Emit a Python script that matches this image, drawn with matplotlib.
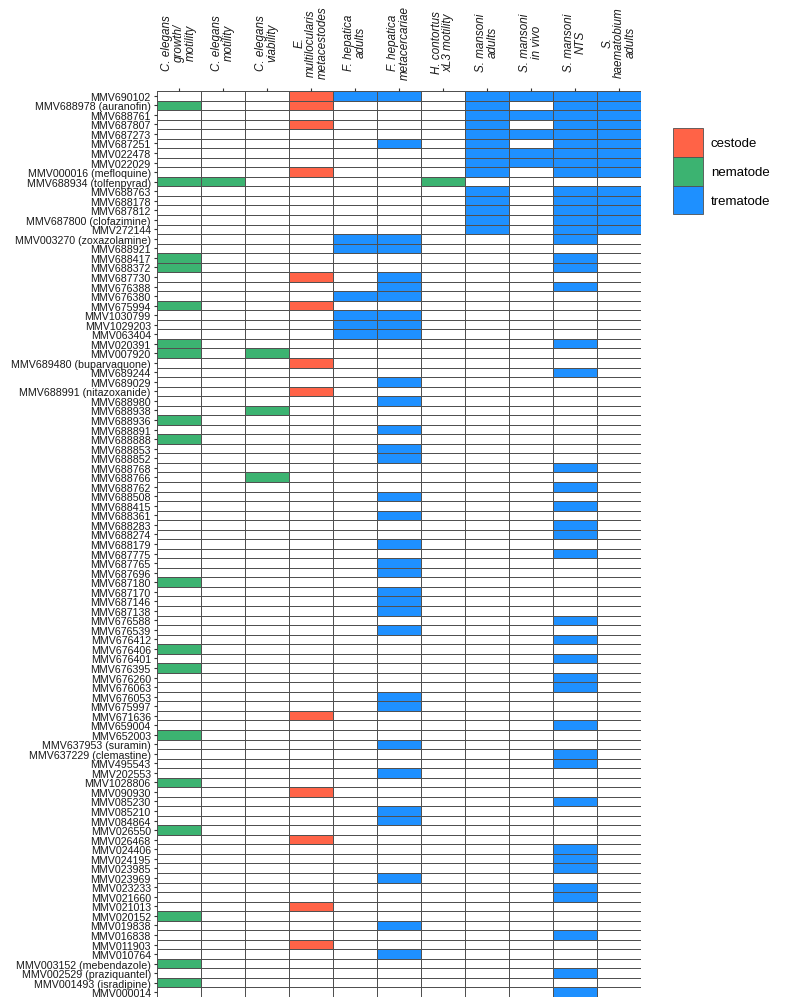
import numpy as np
import matplotlib
matplotlib.use("Agg")
import matplotlib.pyplot as plt
from matplotlib.colors import ListedColormap
from matplotlib.patches import Patch

plt.rcParams["font.family"] = ["Liberation Sans", "DejaVu Sans"]

# assays (columns) and the parasite class each one belongs to
assays = [
    "C. elegans\ngrowth/\nmotility", "C. elegans\nmotility", "C. elegans\nviability",
    "E.\nmultilocularis\nmetacestodes", "F. hepatica\nadults", "F. hepatica\nmetacercariae",
    "H. contortus\nxL3 motility", "S. mansoni\nadults", "S. mansoni\nin vivo",
    "S. mansoni\nNTS", "S.\nhaematobium\nadults",
]
assay_class = ["nematode", "nematode", "nematode", "cestode", "trematode", "trematode",
               "nematode", "trematode", "trematode", "trematode", "trematode"]

compounds = [
    "MMV690102", "MMV688978 (auranofin)", "MMV688761", "MMV687807", "MMV687273",
    "MMV687251", "MMV022478", "MMV022029", "MMV000016 (mefloquine)", "MMV688934 (tolfenpyrad)",
    "MMV688763", "MMV688178", "MMV687812", "MMV687800 (clofazimine)", "MMV272144",
    "MMV003270 (zoxazolamine)", "MMV688921", "MMV688417", "MMV688372", "MMV687730",
    "MMV676388", "MMV676380", "MMV675994", "MMV1030799", "MMV1029203",
    "MMV063404", "MMV020391", "MMV007920", "MMV689480 (buparvaquone)", "MMV689244",
    "MMV689029", "MMV688991 (nitazoxanide)", "MMV688980", "MMV688938", "MMV688936",
    "MMV688891", "MMV688888", "MMV688853", "MMV688852", "MMV688768",
    "MMV688766", "MMV688762", "MMV688508", "MMV688415", "MMV688361",
    "MMV688283", "MMV688274", "MMV688179", "MMV687775", "MMV687765",
    "MMV687696", "MMV687180", "MMV687170", "MMV687146", "MMV687138",
    "MMV676588", "MMV676539", "MMV676412", "MMV676406", "MMV676401",
    "MMV676395", "MMV676260", "MMV676063", "MMV676053", "MMV675997",
    "MMV671636", "MMV659004", "MMV652003", "MMV637953 (suramin)", "MMV637229 (clemastine)",
    "MMV495543", "MMV202553", "MMV1028806", "MMV090930", "MMV085230",
    "MMV085210", "MMV084864", "MMV026550", "MMV026468", "MMV024406",
    "MMV024195", "MMV023985", "MMV023969", "MMV023233", "MMV021660",
    "MMV021013", "MMV020152", "MMV019838", "MMV016838", "MMV011903",
    "MMV010764", "MMV003152 (mebendazole)", "MMV002529 (praziquantel)", "MMV001493 (isradipine)",
    "MMV000014",
]

# active assay indices for each compound (same order as compounds)
hits = [
    [3, 4, 5, 7, 8, 9, 10], [0, 3, 7, 9, 10], [7, 8, 9, 10], [3, 7, 9, 10], [7, 8, 9, 10],
    [5, 7, 9, 10], [7, 8, 9, 10], [7, 8, 9, 10], [3, 7, 9, 10], [0, 1, 6],
    [7, 9, 10], [7, 9, 10], [7, 9, 10], [7, 9, 10], [7, 9, 10],
    [4, 5, 9], [4, 5], [0, 9], [0, 9], [3, 5],
    [5, 9], [4, 5], [0, 3], [4, 5], [4, 5],
    [4, 5], [0, 9], [0, 2], [3], [9],
    [5], [3], [5], [2], [0],
    [5], [0], [5], [5], [9],
    [2], [9], [5], [9], [5],
    [9], [9], [5], [9], [5],
    [5], [0], [5], [5], [5],
    [9], [5], [9], [0], [9],
    [0], [9], [9], [5], [5],
    [3], [9], [0], [5], [9],
    [9], [5], [0], [3], [9],
    [5], [5], [0], [3], [9],
    [9], [9], [5], [9], [9],
    [3], [0], [5], [9], [3],
    [5], [0], [9], [0], [9],
]

classes = ["cestode", "nematode", "trematode"]
class_colors = {"cestode": "#FF6347", "nematode": "#3CB371", "trematode": "#1E90FF"}


def main():
    n_rows, n_cols = len(compounds), len(assays)
    mat = np.zeros((n_rows, n_cols))
    for i, cols in enumerate(hits):
        for j in cols:
            mat[i, j] = classes.index(assay_class[j]) + 1

    cmap = ListedColormap(["white"] + [class_colors[c] for c in classes])

    fig = plt.figure(figsize=(7.92, 10.04), dpi=100)
    ax = fig.add_axes([157 / 792, 1 - 998 / 1004, 484 / 792, 906 / 1004])
    ax.pcolormesh(np.arange(n_cols + 1), np.arange(n_rows + 1), mat, cmap=cmap,
                  vmin=-0.5, vmax=3.5, edgecolors="#505050", linewidth=0.5)
    ax.set_xlim(0, n_cols)
    ax.set_ylim(n_rows, 0)
    for s in ax.spines.values():
        s.set_visible(False)

    ax.set_yticks(np.arange(n_rows) + 0.5)
    ax.set_yticklabels(compounds, fontsize=7.7, color="#1a1a1a")
    ax.xaxis.tick_top()
    ax.set_xticks(np.arange(n_cols) + 0.5)
    ax.set_xticklabels(assays, rotation=90, fontsize=8.4, fontstyle="italic", color="#1a1a1a")
    # header labels are centred vertically around the same height
    for lbl in ax.get_xticklabels():
        lbl.set_linespacing(0.95)
        lbl.set_multialignment("center")
        lbl.set_verticalalignment("center")
    ax.tick_params(axis="y", length=2.5, width=0.8, color="#333333", pad=2)
    ax.tick_params(axis="x", length=2.5, width=0.8, color="#333333", pad=33)

    handles = [Patch(facecolor=class_colors[c], edgecolor="#505050", linewidth=0.6, label=c)
               for c in classes]
    fig.legend(handles=handles, loc="upper left", bbox_to_anchor=(666 / 792, 1 - 122 / 1004),
               frameon=False, fontsize=9.5, handlelength=2.3, handleheight=3.0,
               labelspacing=0, handletextpad=0.6, borderpad=0)

    fig.savefig("out.png", dpi=100)
    plt.close(fig)


if __name__ == "__main__":
    main()
